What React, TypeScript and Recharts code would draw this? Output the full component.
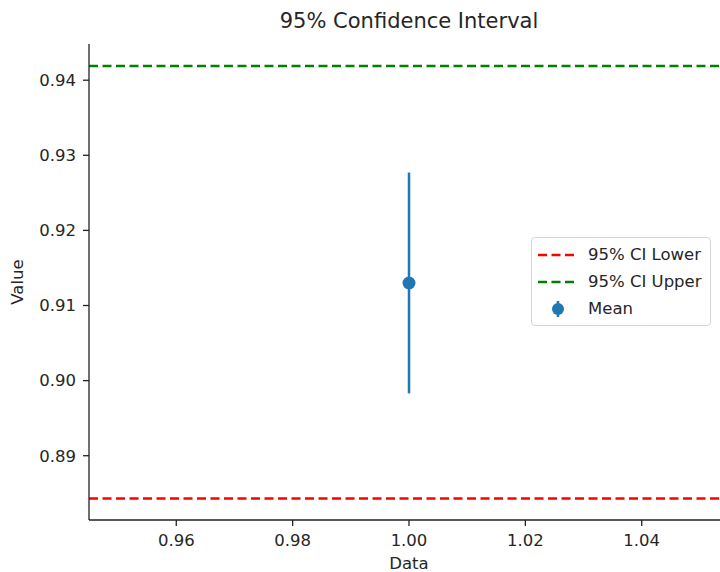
import { ComposedChart, Scatter, ErrorBar, XAxis, YAxis, ReferenceLine, Legend } from 'recharts'

const xValues = [1.0]
const meanValues = [0.913]
const errorValues = [0.0147]
const ciLower = 0.8843
const ciUpper = 0.9419
const xTicks = [0.96, 0.98, 1.0, 1.02, 1.04]
const yTicks = [0.89, 0.9, 0.91, 0.92, 0.93, 0.94]
const xDomain = [0.945, 1.055]
const yDomain = [0.88144, 0.94482]

const data = xValues.map((x, i) => ({ x, mean: meanValues[i], err: errorValues[i] }))

const FONT = 'DejaVu Sans, sans-serif'
const TEXT = '#262626'

function LegendBox() {
    const row = { display: 'flex', alignItems: 'center', height: 27 }
    const label = { marginLeft: 8, fontSize: 16.5, color: TEXT, fontFamily: FONT }
    return (
        <div
            style={{
                width: 178,
                border: '1px solid #d6d6d6',
                borderRadius: 4,
                background: 'rgba(255,255,255,0.8)',
                padding: '3px 0 3px 0',
            }}
        >
            <div style={row}>
                <svg width={44} height={10} style={{ marginLeft: 4 }}>
                    <line x1={2} y1={5} x2={40} y2={5} stroke="red" strokeWidth={2.5} strokeDasharray="9 4.5" />
                </svg>
                <span style={label}>95% CI Lower</span>
            </div>
            <div style={row}>
                <svg width={44} height={10} style={{ marginLeft: 4 }}>
                    <line x1={2} y1={5} x2={40} y2={5} stroke="green" strokeWidth={2.5} strokeDasharray="9 4.5" />
                </svg>
                <span style={label}>95% CI Upper</span>
            </div>
            <div style={row}>
                <svg width={44} height={22} style={{ marginLeft: 4 }}>
                    <line x1={22} y1={3} x2={22} y2={19} stroke="#1f77b4" strokeWidth={2.5} />
                    <circle cx={22} cy={11} r={6} fill="#1f77b4" />
                </svg>
                <span style={label}>Mean</span>
            </div>
        </div>
    )
}

export default function App() {
    return (
        <div
            style={{
                position: 'fixed',
                top: 0,
                left: 0,
                width: 720,
                height: 572,
                overflow: 'hidden',
                background: '#fff',
                fontFamily: FONT,
            }}
        >
            <div
                style={{
                    position: 'absolute',
                    top: 9,
                    left: 89,
                    width: 640,
                    textAlign: 'center',
                    fontSize: 21,
                    color: TEXT,
                }}
            >
                95% Confidence Interval
            </div>
            <ComposedChart width={739} height={572} data={data} margin={{ top: 44, right: 10, bottom: 0, left: 0 }}>
                <XAxis
                    xAxisId="top"
                    orientation="top"
                    type="number"
                    dataKey="x"
                    domain={xDomain}
                    allowDataOverflow
                    height={0}
                    tick={false}
                    tickLine={false}
                    stroke="#222"
                    strokeWidth={1.3}
                />
                <XAxis
                    type="number"
                    dataKey="x"
                    domain={xDomain}
                    allowDataOverflow
                    ticks={xTicks}
                    tickFormatter={(v: number) => v.toFixed(2)}
                    height={52}
                    tickSize={6}
                    tickMargin={8}
                    stroke="#222"
                    strokeWidth={1.3}
                    tick={{ fill: TEXT, fontSize: 16.5, fontFamily: FONT }}
                    label={{ value: 'Data', position: 'insideBottom', offset: 3, fill: TEXT, fontSize: 16.5, fontFamily: FONT }}
                />
                <YAxis
                    type="number"
                    domain={yDomain}
                    allowDataOverflow
                    ticks={yTicks}
                    tickFormatter={(v: number) => v.toFixed(2)}
                    width={89}
                    tickSize={6}
                    tickMargin={7}
                    stroke="#222"
                    strokeWidth={1.3}
                    tick={{ fill: TEXT, fontSize: 16.5, fontFamily: FONT }}
                    label={(props: any) => {
                        const vb = props.viewBox
                        const cy = vb.y + vb.height / 2
                        return (
                            <text
                                x={17}
                                y={cy}
                                transform={`rotate(-90, 17, ${cy})`}
                                textAnchor="middle"
                                dominantBaseline="central"
                                fill={TEXT}
                                fontSize={16.5}
                                fontFamily={FONT}
                            >
                                Value
                            </text>
                        )
                    }}
                />
                <ReferenceLine y={ciLower} stroke="red" strokeWidth={2.5} strokeDasharray="9 4.5" />
                <ReferenceLine y={ciUpper} stroke="green" strokeWidth={2.5} strokeDasharray="9 4.5" />
                <Scatter
                    dataKey="mean"
                    fill="#1f77b4"
                    isAnimationActive={false}
                    shape={(p: any) => <circle cx={p.cx} cy={p.cy} r={6.5} fill="#1f77b4" />}
                >
                    <ErrorBar dataKey="err" direction="y" width={0} stroke="#1f77b4" strokeWidth={2.5} />
                </Scatter>
                <Legend
                    layout="horizontal"
                    align="center"
                    verticalAlign="middle"
                    content={() => <LegendBox />}
                    wrapperStyle={{ top: 237, left: 531, width: 182 }}
                />
            </ComposedChart>
        </div>
    )
}
